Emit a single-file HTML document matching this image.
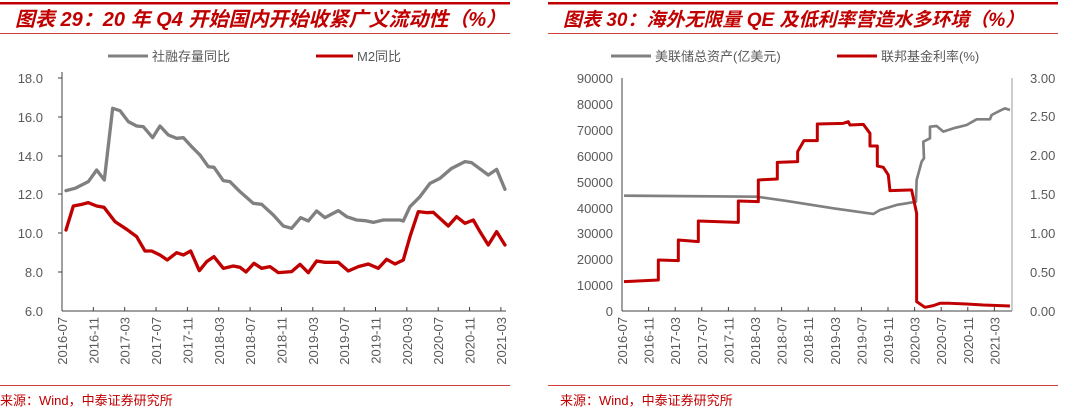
<!DOCTYPE html>
<html><head><meta charset="utf-8"><style>
body{margin:0;background:#fff;width:1080px;height:412px;overflow:hidden;font-family:"Liberation Sans","Noto Sans CJK SC",sans-serif}
</style></head><body>
<svg width="1080" height="412" xmlns="http://www.w3.org/2000/svg" font-family="Liberation Sans, Noto Sans CJK SC, sans-serif">
<rect x="0" y="2" width="510" height="2.5" fill="#c00000"/>
<rect x="0" y="33" width="510" height="1" fill="#d04040"/>
<rect x="548" y="2" width="510" height="2.5" fill="#c00000"/>
<rect x="548" y="33" width="510" height="1" fill="#d04040"/>
<text x="15" y="26" font-size="20" font-style="italic" font-weight="bold" fill="#c00000">图表 29：20 年 Q4 开始国内开始收紧广义流动性（%）</text>
<text x="563" y="26" font-size="19" font-style="italic" font-weight="bold" fill="#c00000">图表 30：海外无限量 QE 及低利率营造水多环境（%）</text>
<rect x="0" y="385" width="510" height="1" fill="#d04040"/>
<rect x="548" y="385" width="510" height="1" fill="#d04040"/>
<text x="0" y="405" font-size="13" fill="#c00000">来源：Wind，中泰证券研究所</text>
<text x="560" y="405" font-size="13" fill="#c00000">来源：Wind，中泰证券研究所</text>

<g font-size="13" fill="#595959">
<line x1="108" y1="56" x2="148" y2="56" stroke="#808080" stroke-width="3"/>
<text x="152" y="61">社融存量同比</text>
<line x1="316" y1="56" x2="353" y2="56" stroke="#c00000" stroke-width="3"/>
<text x="357" y="61">M2同比</text>
<g text-anchor="end">
<text x="43" y="83">18.0</text><text x="43" y="122">16.0</text><text x="43" y="161">14.0</text>
<text x="43" y="199">12.0</text><text x="43" y="238">10.0</text><text x="43" y="277">8.0</text><text x="43" y="316">6.0</text>
</g>
</g>
<g stroke="#404040" stroke-width="1">
<line x1="62" y1="72" x2="62" y2="311"/><line x1="62" y1="311" x2="506" y2="311"/>
<line x1="58" y1="78" x2="62" y2="78"/><line x1="58" y1="117" x2="62" y2="117"/><line x1="58" y1="156" x2="62" y2="156"/>
<line x1="58" y1="194" x2="62" y2="194"/><line x1="58" y1="233" x2="62" y2="233"/><line x1="58" y1="272" x2="62" y2="272"/>
</g>
<g id="lt" stroke="#404040"></g>
<g id="ll" font-size="13" fill="#595959"></g>
<g transform="translate(60,90) scale(0.3333)" fill="none" stroke-width="10" stroke-linejoin="round" stroke-linecap="round">
<polyline stroke="#808080" points="18,302 45,295 85,275 110,240 133,270 158,55 180,62 205,95 230,108 250,110 278,143 300,108 325,135 350,145 370,143 395,170 420,195 445,230 462,232 490,272 510,275 540,305 580,340 605,343 640,375 670,408 695,415 722,383 745,393 770,363 795,383 835,362 860,380 890,390 915,392 940,397 970,390 1020,390 1030,393 1050,350 1080,320 1110,280 1140,265 1175,235 1215,215 1235,218 1285,255 1310,238 1335,298"/>
<polyline stroke="#c00000" points="18,420 40,348 65,343 85,338 110,348 132,352 165,395 200,418 230,440 255,483 275,483 300,495 322,510 350,488 370,495 392,483 418,542 440,515 462,500 490,535 520,528 540,532 558,546 582,520 605,535 630,530 655,548 695,545 720,523 745,548 770,513 795,517 835,517 865,543 895,530 925,522 955,535 980,508 1005,522 1030,510 1050,440 1075,365 1100,368 1120,367 1165,408 1190,380 1215,400 1240,390 1260,425 1285,465 1310,425 1335,465"/>
</g>

<g font-size="13" fill="#595959">
<line x1="611" y1="56" x2="651" y2="56" stroke="#808080" stroke-width="3"/>
<text x="655" y="61">美联储总资产(亿美元)</text>
<line x1="837" y1="56" x2="877" y2="56" stroke="#c00000" stroke-width="3"/>
<text x="881" y="61">联邦基金利率(%)</text>
<g text-anchor="end">
<text x="613" y="83">90000</text><text x="613" y="109">80000</text><text x="613" y="135">70000</text>
<text x="613" y="161">60000</text><text x="613" y="187">50000</text><text x="613" y="213">40000</text>
<text x="613" y="238">30000</text><text x="613" y="264">20000</text><text x="613" y="290">10000</text><text x="613" y="316">0</text>
</g>
<text x="1030" y="83">3.00</text><text x="1030" y="121">2.50</text><text x="1030" y="160">2.00</text>
<text x="1030" y="199">1.50</text><text x="1030" y="238">1.00</text><text x="1030" y="277">0.50</text><text x="1030" y="316">0.00</text>
</g>
<g stroke="#404040" stroke-width="1">
<line x1="622" y1="78" x2="622" y2="311"/><line x1="622" y1="311" x2="1012" y2="311"/>
<line x1="1012" y1="78" x2="1012" y2="311" stroke="#999"/>
</g>
<g id="rt" stroke="#404040"></g>
<g id="rl" font-size="13" fill="#595959"></g>
<g transform="translate(600,90) scale(0.3333)" fill="none" stroke-width="8" stroke-linejoin="round">
<polyline stroke="#808080" points="72,317 470,320 560,333 700,355 820,372 840,360 890,345 920,340 948,335 950,270 965,215 972,205 970,155 990,145 990,110 1010,108 1030,125 1060,115 1100,105 1130,88 1170,88 1175,75 1200,62 1215,55 1230,60"/>
<polyline stroke="#c00000" stroke-width="9" points="72,575 175,570 175,510 235,512 235,450 295,455 295,393 415,397 415,333 475,335 475,270 532,267 532,217 593,215 593,185 612,152 652,152 652,102 730,100 745,95 750,105 790,103 810,130 810,168 832,168 832,228 850,232 865,255 870,302 928,300 935,300 950,370 950,635 975,652 1000,647 1020,640 1050,640 1100,642 1150,645 1230,648"/>
</g>
</svg>
<script>
const L=["2016-07","2016-11","2017-03","2017-07","2017-11","2018-03","2018-07","2018-11","2019-03","2019-07","2019-11","2020-03","2020-07","2020-11","2021-03"];
const ns="http://www.w3.org/2000/svg";
function build(tid,lid,x0,dx,y0){
 const t=document.getElementById(tid),l=document.getElementById(lid);
 for(let i=0;i<L.length;i++){
  const x=x0+dx*i;
  if(i>0){const ln=document.createElementNS(ns,"line");ln.setAttribute("x1",x);ln.setAttribute("x2",x);ln.setAttribute("y1",y0-4);ln.setAttribute("y2",y0);t.appendChild(ln);}
  const tx=document.createElementNS(ns,"text");tx.setAttribute("transform",`translate(${x+5},${y0+6}) rotate(-90)`);tx.setAttribute("text-anchor","end");tx.textContent=L[i];l.appendChild(tx);
 }
}
build("lt","ll",62,31.35,311);
build("rt","rl",622,26.6,311);
</script>
</body></html>
